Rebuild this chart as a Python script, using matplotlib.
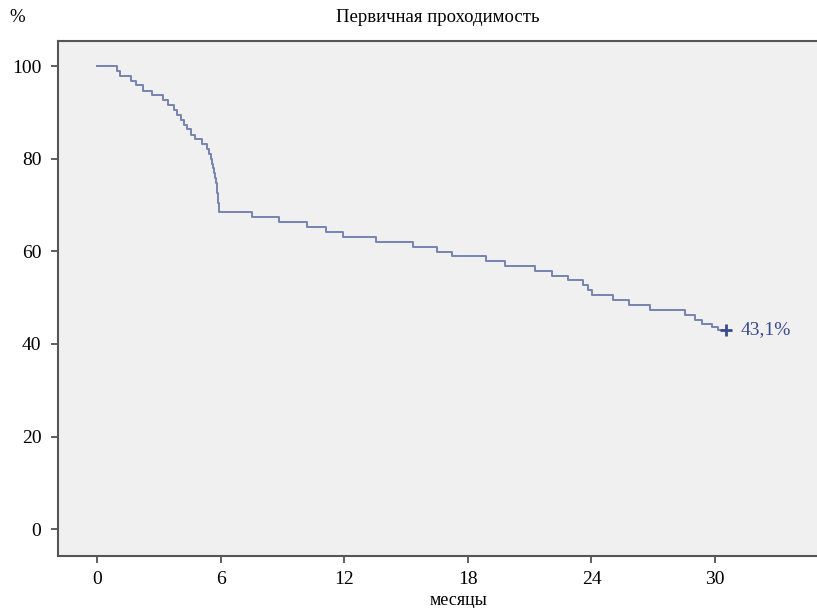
import matplotlib
matplotlib.use('Agg')
from matplotlib import pyplot as plt

# Kaplan-Meier curve (months, % patent)
times = [0, 0.96, 1.12, 1.66, 1.9, 2.22, 2.64, 3.2, 3.45, 3.75, 3.9, 4.05,
         4.2, 4.35, 4.55, 4.75, 5.1, 5.35, 5.45, 5.52, 5.58, 5.64, 5.69,
         5.73, 5.77, 5.8, 5.83, 5.86, 5.88, 5.9, 5.94,
         7.54, 8.85, 10.21, 11.12, 11.93, 13.53, 15.33, 16.49, 17.22, 18.87,
         19.81, 21.26, 22.07, 22.86, 23.61, 23.85, 24.01, 25.05, 25.83,
         26.84, 28.54, 29.03, 29.35, 29.84, 30.16, 30.52]
surv = [100, 98.9, 97.9, 96.8, 95.8, 94.7, 93.7, 92.6, 91.6, 90.5, 89.4, 88.4,
        87.3, 86.3, 85.2, 84.2, 83.1, 82.1, 81.0, 80.0, 78.9, 77.9, 76.8,
        75.8, 74.7, 73.7, 72.6, 71.6, 70.5, 69.5, 68.4,
        67.4, 66.3, 65.2, 64.1, 63.1, 62.0, 60.9, 59.9, 58.9, 57.8,
        56.8, 55.8, 54.7, 53.7, 52.7, 51.7, 50.6, 49.5, 48.4,
        47.3, 46.3, 45.2, 44.2, 43.6, 43.1, 43.1]
censor_t = [30.52]
censor_s = [43.1]
final_label = '43,1%'

xticks = [0, 6, 12, 18, 24, 30]
yticks = [0, 20, 40, 60, 80, 100]

plt.rcParams['font.family'] = ['Liberation Serif', 'DejaVu Serif']

fig = plt.figure(figsize=(8.17, 6.08), dpi=100)
ax = fig.add_axes([58 / 817, 1 - 556 / 608, 759 / 817, 515 / 608])
ax.set_facecolor('#f0f0f0')

line_col = '#7584b0'
ax.step(times, surv, where='post', color=line_col, lw=1.4)
ax.plot(censor_t, censor_s, marker='+', color='#3a4a8c', ms=9, mew=2, ls='none')
ax.text(censor_t[0] + 0.7, censor_s[0], final_label, color='#3a4a8c',
        fontsize=14, va='center', ha='left')

ax.set_xlim(-1.9, 34.95)
ax.set_ylim(-5.8, 105.4)
ax.set_xticks(xticks)
ax.set_yticks(yticks)
ax.tick_params(axis='both', labelsize=14, length=5, width=1.2,
               color='#444444')
ax.tick_params(axis='y', pad=7)
ax.tick_params(axis='x', pad=6)

for side in ['left', 'bottom', 'top']:
    ax.spines[side].set_color('#555555')
    ax.spines[side].set_linewidth(1.5)
ax.spines['right'].set_visible(False)

ax.set_xlabel('месяцы', fontsize=13)
ax.xaxis.set_label_coords(0.528, -0.07)
ax.set_title('Первичная проходимость', fontsize=13.5, pad=14)
fig.text(17 / 817, 1 - 17 / 608, '%', fontsize=13.5, ha='center', va='center')

plt.savefig('out.png', dpi=100)
